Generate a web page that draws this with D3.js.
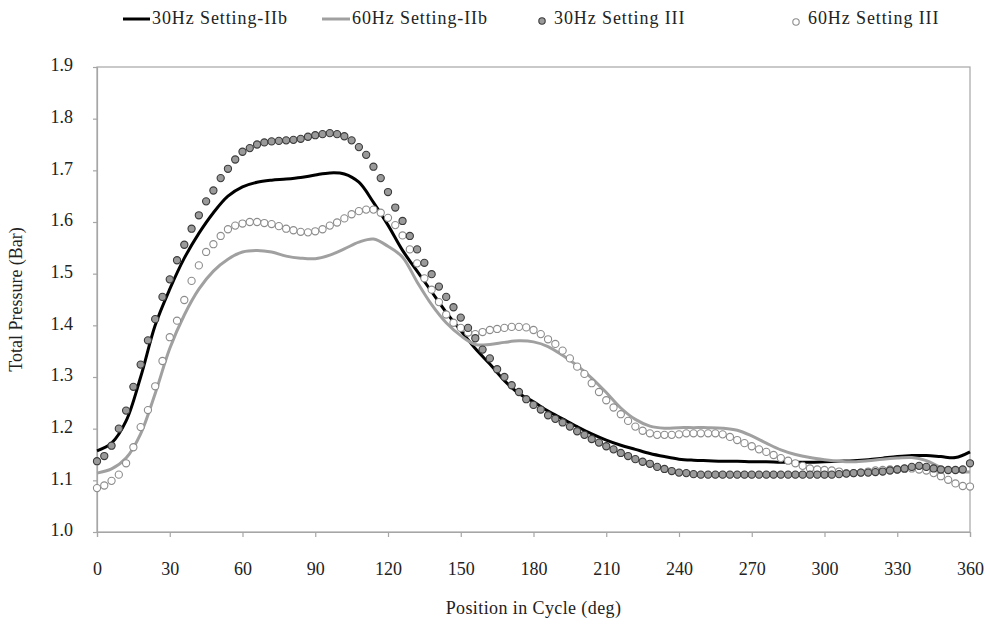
<!DOCTYPE html>
<html>
<head>
<meta charset="utf-8">
<script src="https://cdn.jsdelivr.net/npm/d3@7/dist/d3.min.js"></script>
<style>
  html, body { margin: 0; padding: 0; background: #fff; }
  svg { display: block; font-family: "Liberation Serif", "Times New Roman", serif; }
</style>
</head>
<body>
<svg id="chart" width="990" height="630"></svg>
<script>
// Crank angle sampling (deg)
const markerAngles = d3.range(0, 361, 3);   // measured points, every 3 deg
const lineAngles = d3.range(0, 361, 6);     // simulated curves, every 6 deg

// 30Hz Setting-IIb (solid black curve), values at lineAngles
const p30IIb = [1.157, 1.172, 1.215, 1.300, 1.400, 1.470, 1.530, 1.578, 1.618, 1.650,
  1.668, 1.677, 1.681, 1.683, 1.686, 1.691, 1.695, 1.693, 1.677, 1.638,
  1.594, 1.545, 1.505, 1.465, 1.425, 1.390, 1.355, 1.325, 1.293, 1.268,
  1.252, 1.234, 1.219, 1.204, 1.190, 1.178, 1.168, 1.160, 1.152, 1.146,
  1.141, 1.139, 1.138, 1.137, 1.137, 1.136, 1.136, 1.135, 1.135, 1.135,
  1.136, 1.137, 1.138, 1.140, 1.143, 1.146, 1.148, 1.148, 1.146, 1.144, 1.155];

// 60Hz Setting-IIb (solid grey curve), values at lineAngles
const p60IIb = [1.114, 1.122, 1.143, 1.190, 1.268, 1.355, 1.420, 1.470, 1.505, 1.528,
  1.542, 1.545, 1.542, 1.534, 1.530, 1.529, 1.536, 1.548, 1.561, 1.567,
  1.553, 1.532, 1.484, 1.440, 1.405, 1.380, 1.363, 1.363, 1.367, 1.370,
  1.368, 1.359, 1.342, 1.322, 1.298, 1.270, 1.240, 1.218, 1.205, 1.201,
  1.202, 1.202, 1.202, 1.201, 1.197, 1.186, 1.172, 1.159, 1.150, 1.144,
  1.140, 1.137, 1.136, 1.138, 1.141, 1.143, 1.144, 1.138, 1.125, 1.118, 1.116];

// 30Hz Setting III (filled markers), values at markerAngles
const p30III = [1.137, 1.147, 1.167, 1.200, 1.235, 1.281, 1.324, 1.371, 1.412, 1.455,
  1.489, 1.526, 1.556, 1.587, 1.613, 1.640, 1.661, 1.685, 1.703, 1.721,
  1.736, 1.743, 1.750, 1.754, 1.756, 1.757, 1.758, 1.759, 1.761, 1.765,
  1.768, 1.770, 1.772, 1.770, 1.766, 1.758, 1.745, 1.730, 1.707, 1.685,
  1.658, 1.628, 1.602, 1.573, 1.547, 1.521, 1.499, 1.475, 1.455, 1.435,
  1.415, 1.395, 1.375, 1.353, 1.336, 1.315, 1.300, 1.284, 1.271, 1.257,
  1.246, 1.237, 1.226, 1.219, 1.212, 1.204, 1.195, 1.188, 1.180, 1.173,
  1.166, 1.160, 1.153, 1.147, 1.141, 1.136, 1.132, 1.126, 1.122, 1.118,
  1.115, 1.114, 1.112, 1.111, 1.111, 1.111, 1.111, 1.111, 1.111, 1.111,
  1.111, 1.111, 1.111, 1.111, 1.111, 1.111, 1.111, 1.111, 1.111, 1.111,
  1.111, 1.111, 1.112, 1.113, 1.114, 1.115, 1.115, 1.116, 1.117, 1.119,
  1.121, 1.123, 1.126, 1.128, 1.126, 1.123, 1.121, 1.120, 1.120, 1.121, 1.133];

// 60Hz Setting III (open markers), values at markerAngles
const p60III = [1.085, 1.090, 1.099, 1.111, 1.133, 1.164, 1.203, 1.236, 1.282, 1.331,
  1.377, 1.409, 1.449, 1.486, 1.516, 1.542, 1.557, 1.573, 1.586, 1.593,
  1.597, 1.600, 1.600, 1.598, 1.596, 1.592, 1.587, 1.584, 1.581, 1.580,
  1.582, 1.586, 1.593, 1.599, 1.607, 1.615, 1.621, 1.624, 1.624, 1.618,
  1.608, 1.594, 1.574, 1.547, 1.520, 1.491, 1.469, 1.445, 1.421, 1.405,
  1.395, 1.386, 1.383, 1.387, 1.391, 1.393, 1.395, 1.397, 1.397, 1.396,
  1.391, 1.383, 1.373, 1.364, 1.351, 1.336, 1.320, 1.306, 1.288, 1.271,
  1.255, 1.241, 1.228, 1.215, 1.204, 1.196, 1.191, 1.188, 1.188, 1.188,
  1.189, 1.191, 1.191, 1.191, 1.191, 1.191, 1.189, 1.184, 1.178, 1.172,
  1.166, 1.160, 1.155, 1.149, 1.143, 1.138, 1.133, 1.128, 1.123, 1.121,
  1.120, 1.119, 1.117, 1.114, 1.114, 1.115, 1.117, 1.119, 1.120, 1.121,
  1.121, 1.122, 1.123, 1.121, 1.119, 1.114, 1.108, 1.101, 1.094, 1.089, 1.088];

const xTicks = d3.range(0, 361, 30);
const yTicks = [1.0, 1.1, 1.2, 1.3, 1.4, 1.5, 1.6, 1.7, 1.8, 1.9];
const xTitle = "Position in Cycle (deg)";
const yTitle = "Total Pressure (Bar)";
const seriesNames = ["30Hz Setting-IIb", "60Hz Setting-IIb", "30Hz Setting III", "60Hz Setting III"];

const svg = d3.select("#chart");
const plot = { left: 97, right: 970, top: 67, bottom: 532 };
const axisGrey = "#a6a6a6";

const x = d3.scaleLinear().domain([0, 360]).range([plot.left, plot.right]);
const y = d3.scaleLinear().domain([1.0, 1.9]).range([plot.bottom, plot.top]);

// Plot frame
svg.append("rect")
  .attr("x", plot.left).attr("y", plot.top)
  .attr("width", plot.right - plot.left).attr("height", plot.bottom - plot.top)
  .attr("fill", "none").attr("stroke", axisGrey).attr("stroke-width", 1.2);

// Axes
const yAxis = svg.append("g")
  .attr("transform", `translate(${plot.left},0)`)
  .call(d3.axisLeft(y).tickValues(yTicks).tickFormat(d3.format(".1f")).tickSize(4).tickPadding(20));
const xAxis = svg.append("g")
  .attr("transform", `translate(0,${plot.bottom})`)
  .call(d3.axisBottom(x).tickValues(xTicks).tickSize(5).tickPadding(25));

[xAxis, yAxis].forEach(g => {
  g.select(".domain").attr("stroke", axisGrey).attr("stroke-width", 1.2);
  g.selectAll(".tick line").attr("stroke", axisGrey).attr("stroke-width", 1.2);
  g.selectAll(".tick text")
    .attr("fill", "#222")
    .style("font-family", "'Liberation Serif', serif")
    .style("font-size", "18px");
});
yAxis.selectAll(".tick text").attr("dy", "0.22em");

// Axis titles
svg.append("text")
  .attr("x", (plot.left + plot.right) / 2).attr("y", 614)
  .attr("text-anchor", "middle")
  .style("font-size", "18px").style("letter-spacing", "0.4px")
  .attr("fill", "#222")
  .text(xTitle);
svg.append("text")
  .attr("transform", `translate(22,${(plot.top + plot.bottom) / 2}) rotate(-90)`)
  .attr("text-anchor", "middle")
  .style("font-size", "18px")
  .attr("fill", "#222")
  .text(yTitle);

// Curves
const lineGen = d3.line()
  .x((d, i) => x(lineAngles[i]))
  .y(d => y(d))
  .curve(d3.curveCatmullRom.alpha(0.5));

svg.append("path").datum(p30IIb)
  .attr("d", lineGen)
  .attr("fill", "none").attr("stroke", "#000").attr("stroke-width", 3);
svg.append("path").datum(p60IIb)
  .attr("d", lineGen)
  .attr("fill", "none").attr("stroke", "#a0a0a0").attr("stroke-width", 3);

// Markers
const r = 3.6;
svg.append("g").selectAll("circle").data(p60III).join("circle")
  .attr("cx", (d, i) => x(markerAngles[i])).attr("cy", d => y(d)).attr("r", r)
  .attr("fill", "#fff").attr("stroke", "#8c8c8c").attr("stroke-width", 1.1);
svg.append("g").selectAll("circle").data(p30III).join("circle")
  .attr("cx", (d, i) => x(markerAngles[i])).attr("cy", d => y(d)).attr("r", r)
  .attr("fill", "#9a9a9a").attr("stroke", "#3a3a3a").attr("stroke-width", 1.1);

// Legend
const legend = svg.append("g").style("font-size", "18px").attr("fill", "#222");
const legendY = 19;
legend.append("line").attr("x1", 123).attr("x2", 150).attr("y1", legendY).attr("y2", legendY)
  .attr("stroke", "#000").attr("stroke-width", 3);
legend.append("text").attr("x", 152).attr("y", legendY + 5).style("letter-spacing", "0.9px").text(seriesNames[0]);
legend.append("line").attr("x1", 322).attr("x2", 350).attr("y1", legendY).attr("y2", legendY)
  .attr("stroke", "#a0a0a0").attr("stroke-width", 3);
legend.append("text").attr("x", 352).attr("y", legendY + 5).style("letter-spacing", "0.9px").text(seriesNames[1]);
legend.append("circle").attr("cx", 542).attr("cy", legendY + 2).attr("r", 3.2)
  .attr("fill", "#9a9a9a").attr("stroke", "#3a3a3a").attr("stroke-width", 1.1);
legend.append("text").attr("x", 554).attr("y", legendY + 5).style("letter-spacing", "0.9px").text(seriesNames[2]);
legend.append("circle").attr("cx", 796).attr("cy", legendY + 3).attr("r", 3.2)
  .attr("fill", "#fff").attr("stroke", "#8c8c8c").attr("stroke-width", 1.1);
legend.append("text").attr("x", 808).attr("y", legendY + 5).style("letter-spacing", "0.9px").text(seriesNames[3]);
</script>
</body>
</html>
